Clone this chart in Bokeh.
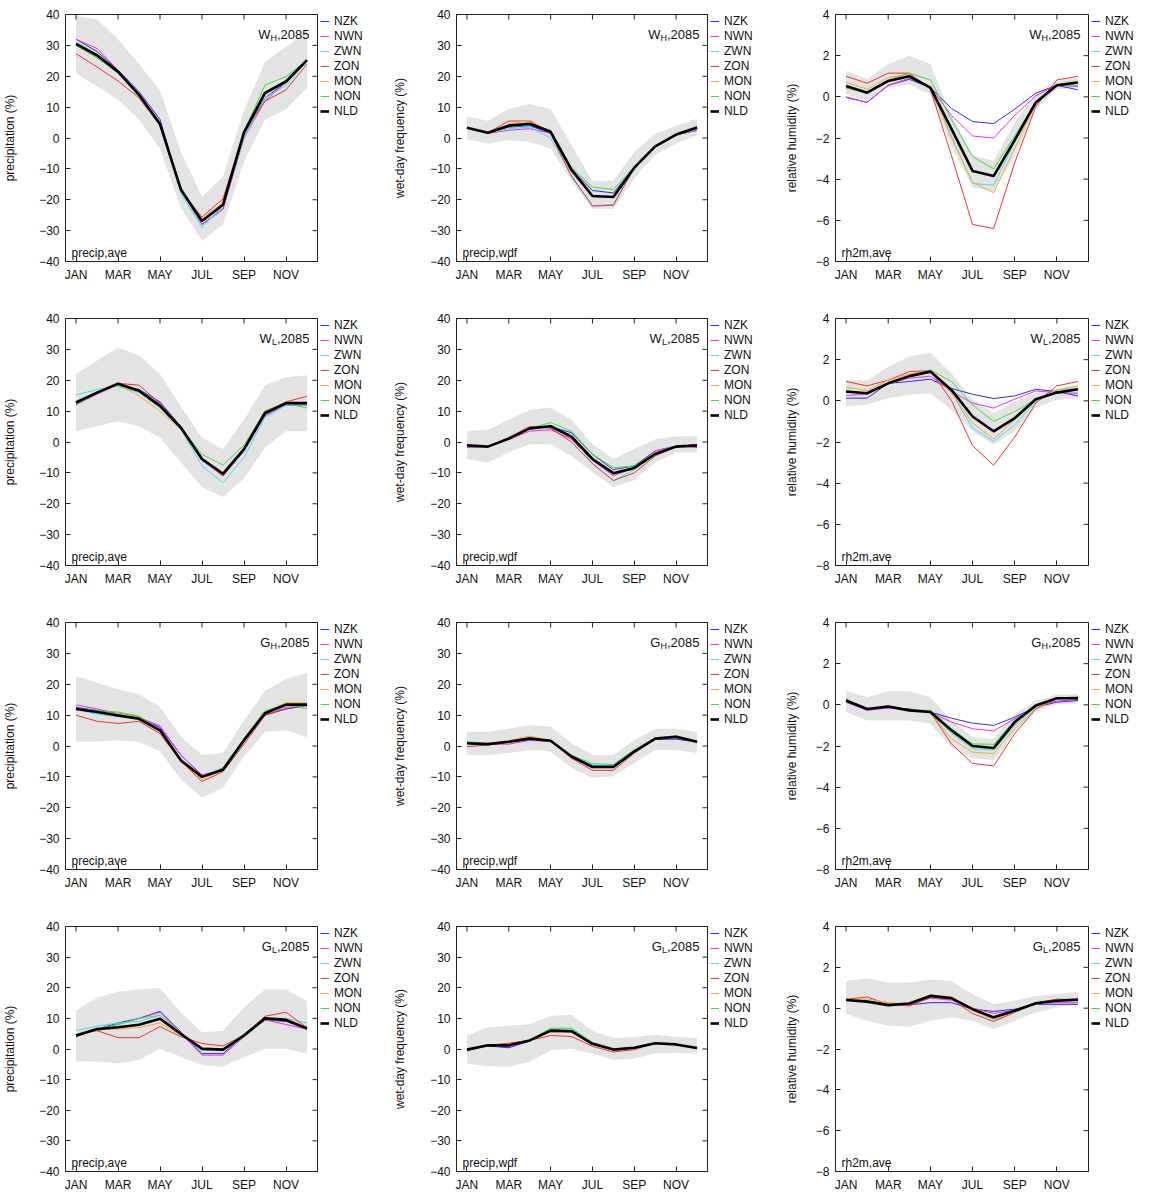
import math
from bokeh.plotting import figure
from bokeh.layouts import column, row
from bokeh.models import Range1d, FixedTicker, Legend, LegendItem, Label
from bokeh.embed import file_html
from bokeh.resources import INLINE

MONTHS = list(range(1, 13))
MONTH_TICKS = [1, 3, 5, 7, 9, 11]
MONTH_LABELS = ["JAN", "MAR", "MAY", "JUL", "SEP", "NOV"]
REGIONS = ["NZK", "NWN", "ZWN", "ZON", "MON", "NON", "NLD"]
PRECIP_TICKS = [-40, -30, -20, -10, 0, 10, 20, 30, 40]
RH_TICKS = [-8, -6, -4, -2, 0, 2, 4]

# ---------------- W_H 2085 ----------------
WH_PRECIP = {
    "NZK": [32, 28, 22, 15, 6, -17, -28, -23, 1, 13, 18, 25],
    "NWN": [32, 29, 22, 14, 5, -17, -28, -23, 0, 12, 18, 25],
    "ZWN": [31, 27, 21, 14, 4, -18, -29, -22, 0, 13, 17, 25],
    "ZON": [27.3, 23, 18.5, 13, 4, -17, -25.6, -19.7, 2, 11.9, 15.6, 24],
    "MON": [30, 26, 21, 14, 4, -17, -26, -21, 1, 14, 18, 25],
    "NON": [30, 26, 21, 14, 4, -16, -27, -22, 2, 17.2, 19.9, 25],
    "NLD": [30.5, 26.8, 21.5, 14, 4.5, -16.8, -26.9, -21.6, 1.8, 14.6, 18.3, 25.2],
}
WH_PRECIP_LO = [21, 16.7, 12.4, 6, -3.5, -22.7, -33.3, -28, -7.8, 6, 9.3, 16.2]
WH_PRECIP_HI = [39.5, 38.5, 32, 24, 15.5, -4.6, -19, -12.5, 9, 24.7, 29.5, 35]

WH_WDF = {
    "NZK": [3.3, 1.7, 3.5, 4.0, 1.5, -10, -17, -17.8, -9.5, -2.7, 1, 2.5],
    "NWN": [3.3, 1.5, 2.5, 3.0, 1.5, -11, -19, -19, -9.6, -2.7, 1, 2.5],
    "ZWN": [3.3, 1.7, 3.0, 3.5, 0, -12, -22, -21.5, -9.6, -2.7, 1, 3],
    "ZON": [3.3, 1.7, 5.5, 5.5, 1.5, -12.5, -22, -21.8, -9.6, -2.7, 1, 3],
    "MON": [3.3, 1.7, 4.5, 5.8, 2, -11, -19, -19, -9.6, -2.7, 1.2, 3.4],
    "NON": [3.3, 1.7, 3.5, 4.5, 2.5, -9.5, -15.9, -16.7, -9.3, -2.7, 1, 3],
    "NLD": [3.3, 1.7, 4.0, 4.6, 2.0, -10.3, -18.8, -19.1, -9.6, -2.7, 1.1, 3.4],
}
WH_WDF_LO = [-0.4, -1.8, -0.7, -1.3, -3.4, -14, -23, -23, -13, -5.5, -1.8, 0.9]
WH_WDF_HI = [7, 5.6, 9.4, 11, 9.4, -2.3, -14, -13.8, -4.5, 1.4, 4, 6.2]

WH_RH = {
    "NZK": [-0.03, -0.27, 0.56, 0.85, 0.45, -0.56, -1.2, -1.3, -0.6, 0.18, 0.56, 0.34],
    "NWN": [0.0, -0.27, 0.56, 0.9, 0.45, -0.9, -1.9, -2.0, -0.9, 0.05, 0.56, 0.5],
    "ZWN": [0.5, 0.2, 0.77, 1.0, 0.45, -1.9, -4.2, -4.3, -2.2, -0.3, 0.56, 0.7],
    "ZON": [1.0, 0.66, 1.15, 1.15, 0.37, -2.85, -6.2, -6.4, -3.2, -0.47, 0.82, 1.0],
    "MON": [0.7, 0.37, 0.94, 1.1, 0.45, -2.0, -4.15, -4.66, -2.5, -0.35, 0.6, 0.77],
    "NON": [0.42, 0.2, 0.82, 1.15, 0.82, -1.1, -2.9, -3.5, -1.9, -0.27, 0.56, 0.56],
    "NLD": [0.53, 0.2, 0.77, 1.0, 0.45, -1.56, -3.6, -3.85, -2.1, -0.27, 0.56, 0.7],
}
WH_RH_LO = [0.13, -0.2, 0.45, 0.6, 0.13, -2.4, -4.4, -4.6, -2.85, -0.6, 0.37, 0.45]
WH_RH_HI = [1.25, 0.85, 1.6, 2.0, 1.6, -0.9, -2.85, -3.1, -1.25, 0.13, 0.77, 0.93]

# ---------------- W_L 2085 ----------------
WL_PRECIP = {
    "NZK": [13, 16, 18.5, 17, 13, 5, -5.5, -10, -2, 9, 12, 12],
    "NWN": [12, 15.5, 18.5, 16.5, 12.5, 4.5, -6, -11, -3, 8.5, 12, 12],
    "ZWN": [15.2, 17, 18, 16, 11, 4, -7.7, -13.2, -5, 8, 12, 12],
    "ZON": [12.5, 16, 19, 18.4, 12.5, 5, -5.5, -11, -2.5, 9, 13, 14.8],
    "MON": [12, 16, 18.5, 15, 10, 4, -5.5, -10, -2, 10, 13, 12.5],
    "NON": [12, 16, 18.5, 16.5, 12, 4.5, -4, -7.5, -1, 10, 12.5, 11],
    "NLD": [12.8, 16, 18.9, 16.6, 11.7, 4.6, -5.5, -10.3, -2.3, 9.4, 12.6, 12.6],
}
WL_PRECIP_LO = [3.5, 5.1, 6.7, 5.1, 1.4, -6.6, -14.6, -17.8, -11.9, -1.8, 3.5, 3.5]
WL_PRECIP_HI = [22, 26.4, 30.6, 28, 22, 11.5, 1.4, -2.3, 7.2, 18.4, 21, 21.6]

WL_WDF = {
    "NZK": [-1.1, -1.5, 1.1, 4.2, 5.0, 3.0, -4.0, -9.0, -7.7, -2.9, -1.3, -1.5],
    "NWN": [-1.8, -1.5, 0.8, 3.5, 4.0, 0.9, -6.0, -10.9, -8.5, -2.9, -1.3, -1.8],
    "ZWN": [-1.0, -1.5, 1.0, 4.0, 5.5, 2.0, -7.0, -12.5, -9.0, -4.0, -1.5, -1.0],
    "ZON": [-1.0, -1.5, 1.5, 5.0, 4.5, 0.0, -7.0, -12.5, -10.0, -4.5, -1.5, -0.8],
    "MON": [-1.0, -1.5, 1.2, 4.5, 5.0, 1.5, -5.5, -10.0, -8.5, -4.0, -1.5, -1.0],
    "NON": [-1.0, -1.5, 1.0, 4.5, 6.3, 3.5, -4.0, -8.3, -7.8, -3.5, -1.5, -1.0],
    "NLD": [-1.1, -1.5, 1.1, 4.4, 5.1, 1.7, -5.5, -10.1, -8.4, -3.9, -1.5, -1.1],
}
WL_WDF_LO = [-5.5, -6.6, -3.4, -0.7, -0.7, -4.5, -9.8, -14.6, -12.4, -6.6, -3.4, -3.4]
WL_WDF_HI = [3.5, 4, 7.2, 10.4, 11.2, 7.2, -0.7, -5.5, -2.3, 0.9, 1.9, 1.9]

WL_RH = {
    "NZK": [0.13, 0.13, 0.85, 0.94, 1.05, 0.6, 0.32, 0.11, 0.24, 0.56, 0.45, 0.24],
    "NWN": [0.26, 0.32, 0.85, 1.1, 1.2, 0.45, -0.11, -0.35, 0.08, 0.48, 0.4, 0.37],
    "ZWN": [0.4, 0.35, 0.85, 1.2, 1.45, 0.4, -1.32, -1.97, -1.16, -0.03, 0.53, 0.6],
    "ZON": [0.94, 0.73, 1.0, 1.42, 1.47, 0.02, -2.18, -3.13, -1.76, -0.11, 0.73, 0.94],
    "MON": [0.66, 0.5, 1.0, 1.3, 1.47, 0.37, -1.08, -1.85, -0.92, 0.02, 0.53, 0.73],
    "NON": [0.45, 0.37, 0.85, 1.2, 1.5, 0.94, -0.19, -1.0, -0.52, 0.05, 0.4, 0.56],
    "NLD": [0.45, 0.37, 0.85, 1.2, 1.42, 0.53, -0.76, -1.48, -0.84, 0.08, 0.4, 0.56],
}
WL_RH_LO = [-0.27, -0.19, 0.13, 0.29, 0.37, -0.44, -1.48, -2.13, -1.48, -0.35, 0.05, 0.13]
WL_RH_HI = [1.0, 1.0, 1.66, 2.15, 2.34, 1.34, 0.05, -0.6, -0.03, 0.37, 0.6, 0.77]

# ---------------- G_H 2085 ----------------
GH_PRECIP = {
    "NZK": [12.5, 11.5, 10.5, 9.5, 6, -3, -9.5, -7.5, 1.5, 10, 12, 13],
    "NWN": [13.3, 12, 10.5, 9.2, 6.5, -3, -9.5, -7.5, 1.5, 10, 12.5, 13],
    "ZWN": [12, 10.3, 9.5, 9, 5, -4.5, -10, -7.5, 2, 10.5, 13, 13],
    "ZON": [10, 8, 7.3, 8, 4, -5, -11.5, -8.3, 0.5, 10, 12, 13.5],
    "MON": [12, 11, 10.5, 9.5, 5, -5, -11, -7.5, 2, 11, 14, 14],
    "NON": [12, 11.5, 11, 9.7, 5, -5, -10, -7, 2.5, 11.5, 13.5, 12],
    "NLD": [12, 11, 9.9, 8.8, 5.1, -4.7, -10, -7.7, 1.9, 10.6, 13.4, 13.4],
}
GH_PRECIP_LO = [1.4, 1.4, 1.9, 1.4, -1.8, -10.9, -16.7, -13.5, -3.4, 4.6, 5.1, 2.8]
GH_PRECIP_HI = [22.7, 20.5, 18.4, 16.8, 12.6, 3, -2.9, -2.3, 8.3, 17.9, 21.6, 23.7]

GH_WDF = {
    "NZK": [0.9, 0.6, 1.2, 2.1, 1.5, -3.2, -6.3, -6.3, -1.5, 2.2, 2.2, 1.3],
    "NWN": [0.7, 0.5, 0.6, 1.8, 1.5, -3.5, -6.8, -6.8, -1.8, 2.3, 2.6, 1.3],
    "ZWN": [1.0, 0.6, 1.2, 2.0, 1.7, -3.2, -6.2, -6.2, -1.5, 2.3, 2.8, 1.4],
    "ZON": [-0.2, 0.3, 1.6, 2.8, 1.8, -4.0, -7.9, -7.9, -2.3, 2.4, 3.0, 1.5],
    "MON": [0.9, 0.7, 1.8, 3.2, 1.8, -3.5, -7.0, -7.0, -1.8, 2.6, 3.4, 1.5],
    "NON": [1.4, 0.8, 1.5, 2.5, 1.8, -3.0, -5.7, -6.0, -1.2, 2.5, 3.0, 1.4],
    "NLD": [0.9, 0.6, 1.4, 2.4, 1.7, -3.4, -6.8, -6.8, -1.8, 2.4, 3.0, 1.4],
}
GH_WDF_LO = [-2.9, -2.9, -2.3, -1.3, -1.8, -7.1, -10.3, -9.8, -5.5, -1.3, -1.3, -2.3]
GH_WDF_HI = [4.6, 4.6, 5.6, 6.7, 6.2, 0.9, -2.9, -2.9, 1.9, 5.6, 5.6, 4.6]

GH_RH = {
    "NZK": [0.13, -0.24, -0.15, -0.2, -0.35, -0.65, -0.89, -1.0, -0.6, -0.11, 0.13, 0.21],
    "NWN": [0.13, -0.27, -0.15, -0.27, -0.35, -0.84, -1.16, -1.27, -0.68, -0.08, 0.18, 0.26],
    "ZWN": [0.2, -0.2, -0.1, -0.25, -0.35, -1.4, -2.13, -2.2, -1.0, -0.11, 0.29, 0.32],
    "ZON": [0.21, -0.2, -0.08, -0.24, -0.35, -1.9, -2.85, -2.97, -1.4, -0.2, 0.3, 0.32],
    "MON": [0.2, -0.2, -0.05, -0.27, -0.35, -1.65, -2.3, -2.37, -1.16, -0.15, 0.29, 0.32],
    "NON": [0.29, -0.2, -0.08, -0.24, -0.27, -1.16, -1.9, -1.92, -0.76, -0.03, 0.32, 0.4],
    "NLD": [0.21, -0.2, -0.08, -0.27, -0.35, -1.24, -2.0, -2.1, -0.84, -0.03, 0.32, 0.32],
}
GH_RH_LO = [-0.35, -0.76, -0.76, -0.76, -0.92, -2.05, -2.6, -2.7, -1.32, -0.35, 0.02, 0.08]
GH_RH_HI = [0.69, 0.37, 0.66, 0.66, 0.37, -0.76, -1.56, -1.65, -0.44, 0.21, 0.5, 0.53]

# ---------------- G_L 2085 ----------------
GL_PRECIP = {
    "NZK": [4, 6.5, 8.5, 10, 12.3, 5.5, -1.5, -1.5, 4.5, 9.5, 9, 6.5],
    "NWN": [4, 6.5, 8, 10, 12, 5, -2, -2, 4, 9.5, 8, 6.5],
    "ZWN": [6, 7.5, 8.5, 9, 11, 5, 0, 0, 5, 10, 10, 8.5],
    "ZON": [4.5, 6, 3.7, 3.7, 7.3, 4, 1.8, 1, 4.5, 10.7, 12, 7],
    "MON": [4.5, 6.5, 6.5, 7, 8.5, 4.5, 0.5, 0, 4.5, 10, 10, 7],
    "NON": [4, 6.5, 8, 10, 11, 5, -0.5, -0.5, 4, 9.5, 9.5, 6.5],
    "NLD": [4.4, 6.5, 7.1, 7.9, 9.9, 4.9, 0.1, -0.2, 4.4, 10, 9.5, 6.7],
}
GL_PRECIP_LO = [-4, -4.2, -4.7, -3.6, 0.1, -2.6, -5.2, -5.8, -2.6, 0.1, 0.1, -1.5]
GL_PRECIP_HI = [12.6, 16.7, 18.8, 19.4, 19.9, 11.9, 5.5, 6, 13.5, 19.4, 19.4, 15.6]

GL_WDF = {
    "NZK": [-0.2, 1.0, 0.4, 2.6, 6.2, 6.0, 1.9, -0.1, 0.4, 1.9, 1.5, 0.2],
    "NWN": [-0.3, 1.0, 0.8, 2.8, 5.8, 5.5, 1.5, -0.3, 0.3, 1.8, 1.4, 0.2],
    "ZWN": [-0.2, 1.2, 1.2, 2.8, 6.5, 6.5, 2.0, 0.0, 0.4, 1.9, 1.5, 0.3],
    "ZON": [-0.6, 1.2, 1.9, 2.8, 4.4, 4.1, 0.9, -1.0, -0.2, 1.9, 1.5, 0.1],
    "MON": [-0.2, 1.3, 1.5, 2.8, 5.5, 5.5, 1.5, -0.3, 0.4, 2.0, 1.5, 0.3],
    "NON": [-0.2, 1.2, 1.2, 2.9, 6.8, 6.8, 2.2, 0.1, 0.5, 1.9, 1.5, 0.3],
    "NLD": [-0.2, 1.2, 1.2, 2.8, 6.0, 5.8, 1.7, -0.2, 0.4, 1.9, 1.5, 0.3],
}
GL_WDF_LO = [-4.7, -5.6, -5.8, -4.2, -0.4, 0.1, -1.5, -3.6, -3.1, -1.5, -1.3, -1.5]
GL_WDF_HI = [4.4, 7.1, 7.6, 8.1, 10.8, 11.3, 6, 3.6, 3.9, 4.7, 3.9, 3.6]

GL_RH = {
    "NZK": [0.4, 0.36, 0.19, 0.16, 0.27, 0.27, -0.05, -0.16, -0.05, 0.19, 0.19, 0.19],
    "NWN": [0.4, 0.32, 0.16, 0.19, 0.49, 0.39, 0.0, -0.26, -0.1, 0.23, 0.27, 0.27],
    "ZWN": [0.4, 0.35, 0.15, 0.2, 0.55, 0.45, -0.1, -0.57, -0.2, 0.2, 0.35, 0.4],
    "ZON": [0.44, 0.55, 0.19, 0.11, 0.52, 0.44, -0.26, -0.65, -0.21, 0.27, 0.44, 0.42],
    "MON": [0.4, 0.45, 0.27, 0.2, 0.55, 0.45, -0.1, -0.55, -0.2, 0.2, 0.4, 0.42],
    "NON": [0.4, 0.32, 0.15, 0.23, 0.65, 0.52, -0.05, -0.42, -0.13, 0.24, 0.36, 0.42],
    "NLD": [0.4, 0.32, 0.15, 0.23, 0.6, 0.49, -0.05, -0.45, -0.13, 0.24, 0.36, 0.42],
}
GL_RH_LO = [-0.29, -0.62, -0.86, -0.91, -0.62, -0.45, -0.62, -1.02, -0.62, -0.21, 0.03, 0.19]
GL_RH_HI = [1.33, 1.46, 1.25, 1.25, 1.41, 1.33, 0.68, 0.19, 0.36, 0.6, 0.68, 0.81]

# ---------------- styling ----------------
COLORS = {
    "NZK": "#2b2bf0",
    "NWN": "#f02cf0",
    "ZWN": "#35e6f0",
    "ZON": "#ee3333",
    "MON": "#f5aa30",
    "NON": "#3ee03e",
    "NLD": "#000000",
}
BAND_COLOR = "#e3e3e3"
FONT = "Liberation Sans"
FRAME_COLOR = "#222222"

VAR_INFO = {
    "precip": ("precipitation (%)", "precip,ave", (-40, 40), PRECIP_TICKS, 19),
    "wdf": ("wet-day frequency (%)", "precip,wdf", (-40, 40), PRECIP_TICKS, 20),
    "rh": ("relative humidity (%)", "rh2m,ave", (-8, 4), RH_TICKS, 14),
}
SCEN_SUB_W = {"H": 6.6, "L": 5.2}
BORDER_LEFT = 64
BORDER_TOP = 13
BORDER_RIGHT = 3
FRAME_W = 253
FRAME_H = 248
PLOT_W = BORDER_LEFT + FRAME_W + BORDER_RIGHT
LEG_ITEM_H = 14
LEG_SPACING = 1


def style_axis(ax, ticks):
    ax.ticker = FixedTicker(ticks=ticks)
    ax.major_tick_in = 5
    ax.major_tick_out = 0
    ax.minor_tick_in = 0
    ax.minor_tick_out = 0
    ax.axis_line_color = FRAME_COLOR
    ax.major_tick_line_color = FRAME_COLOR
    ax.major_label_text_font = FONT
    ax.major_label_text_color = "#111111"
    ax.major_label_text_font_size = "12px"
    ax.major_label_standoff = 6


def line_width(r):
    return 2.6 if r == "NLD" else 1.0


def make_panel(data, lo, hi, var, main, sub, height):
    ylabel, tag, (ymin, ymax), yticks, lab_standoff = VAR_INFO[var]
    p = figure(width=PLOT_W, height=height,
               x_range=Range1d(0.5, 12.5), y_range=Range1d(ymin, ymax),
               output_backend="svg", toolbar_location=None,
               min_border_left=BORDER_LEFT, min_border_right=BORDER_RIGHT,
               min_border_top=BORDER_TOP, min_border_bottom=height - BORDER_TOP - FRAME_H)
    p.xgrid.visible = False
    p.ygrid.visible = False
    p.outline_line_color = FRAME_COLOR

    p.varea(x=MONTHS, y1=lo, y2=hi, fill_color=BAND_COLOR, fill_alpha=1.0)
    for r in REGIONS:
        p.line(MONTHS, data[r], line_color=COLORS[r], line_width=line_width(r))

    # mirrored inward ticks on the top and right frame edges
    p.ray(x=MONTH_TICKS, y=[ymax] * len(MONTH_TICKS), length=5, length_units="screen",
          angle=-math.pi / 2, line_color=FRAME_COLOR, line_width=1)
    p.ray(x=[12.5] * len(yticks), y=yticks, length=5, length_units="screen",
          angle=math.pi, line_color=FRAME_COLOR, line_width=1)

    xa = p.xaxis[0]
    style_axis(xa, MONTH_TICKS)
    xa.major_label_overrides = {t: l for t, l in zip(MONTH_TICKS, MONTH_LABELS)}
    ya = p.yaxis[0]
    style_axis(ya, yticks)
    ya.axis_label = ylabel
    ya.axis_label_text_font = FONT
    ya.axis_label_text_font_size = "12px"
    ya.axis_label_text_font_style = "normal"
    ya.axis_label_text_color = "#111111"
    ya.axis_label_standoff = lab_standoff

    # panel title  e.g. W_H,2085
    right_pad = 8
    p.add_layout(Label(x=12.5, y=ymax, x_offset=-right_pad, y_offset=-20,
                       text=",2085", text_align="right", text_baseline="alphabetic",
                       text_font=FONT, text_font_size="13px", text_color="#111111"))
    sub_right = right_pad + 32.5
    p.add_layout(Label(x=12.5, y=ymax, x_offset=-sub_right, y_offset=-23,
                       text=sub, text_align="right", text_baseline="alphabetic",
                       text_font=FONT, text_font_size="9px", text_color="#111111"))
    main_right = sub_right + SCEN_SUB_W[sub]
    p.add_layout(Label(x=12.5, y=ymax, x_offset=-main_right, y_offset=-20,
                       text=main, text_align="right", text_baseline="alphabetic",
                       text_font=FONT, text_font_size="13px", text_color="#111111"))
    # variable tag, bottom left
    p.add_layout(Label(x=0.5, y=ymin, x_offset=6, y_offset=9,
                       text=tag, text_align="left", text_baseline="alphabetic",
                       text_font=FONT, text_font_size="12px", text_color="#111111"))
    return p


def make_legend(data, width, height):
    # the same series, drawn out of view, only so that the legend has glyphs to show
    lf = figure(width=width, height=height, x_range=Range1d(-20, -19), y_range=Range1d(-20, -19),
                x_axis_type=None, y_axis_type=None, output_backend="svg",
                toolbar_location=None, min_border_left=0, min_border_right=0,
                min_border_top=BORDER_TOP + 1, min_border_bottom=0)
    lf.outline_line_color = None
    lf.xgrid.visible = False
    lf.ygrid.visible = False
    items = []
    for r in REGIONS:
        rr = lf.line(MONTHS, data[r], line_color=COLORS[r], line_width=line_width(r))
        items.append(LegendItem(label=r, renderers=[rr]))
    legend = Legend(items=items, location="top_left",
                    border_line_color=None, background_fill_alpha=0,
                    label_text_font=FONT, label_text_font_size="12px",
                    label_text_color="#111111",
                    label_height=LEG_ITEM_H, glyph_height=LEG_ITEM_H, glyph_width=9,
                    label_standoff=5, spacing=LEG_SPACING, padding=0, margin=0)
    lf.add_layout(legend)
    return lf


ROWS = [
    ("W", "H", [(WH_PRECIP, WH_PRECIP_LO, WH_PRECIP_HI, "precip"),
                (WH_WDF, WH_WDF_LO, WH_WDF_HI, "wdf"),
                (WH_RH, WH_RH_LO, WH_RH_HI, "rh")]),
    ("W", "L", [(WL_PRECIP, WL_PRECIP_LO, WL_PRECIP_HI, "precip"),
                (WL_WDF, WL_WDF_LO, WL_WDF_HI, "wdf"),
                (WL_RH, WL_RH_LO, WL_RH_HI, "rh")]),
    ("G", "H", [(GH_PRECIP, GH_PRECIP_LO, GH_PRECIP_HI, "precip"),
                (GH_WDF, GH_WDF_LO, GH_WDF_HI, "wdf"),
                (GH_RH, GH_RH_LO, GH_RH_HI, "rh")]),
    ("G", "L", [(GL_PRECIP, GL_PRECIP_LO, GL_PRECIP_HI, "precip"),
                (GL_WDF, GL_WDF_LO, GL_WDF_HI, "wdf"),
                (GL_RH, GL_RH_LO, GL_RH_HI, "rh")]),
]
COL_WIDTHS = [390, 381, 377]

rows = []
for ri, (main, sub, panels) in enumerate(ROWS):
    last = ri == len(ROWS) - 1
    height = 282 if last else 304
    figs = []
    for ci, (data, lo, hi, var) in enumerate(panels):
        figs.append(make_panel(data, lo, hi, var, main, sub, height))
        figs.append(make_legend(data, COL_WIDTHS[ci] - PLOT_W, height))
    rows.append(row(*figs, spacing=0))

layout = column(*rows, spacing=0)
open("out.html", "w").write(file_html(layout, INLINE))
